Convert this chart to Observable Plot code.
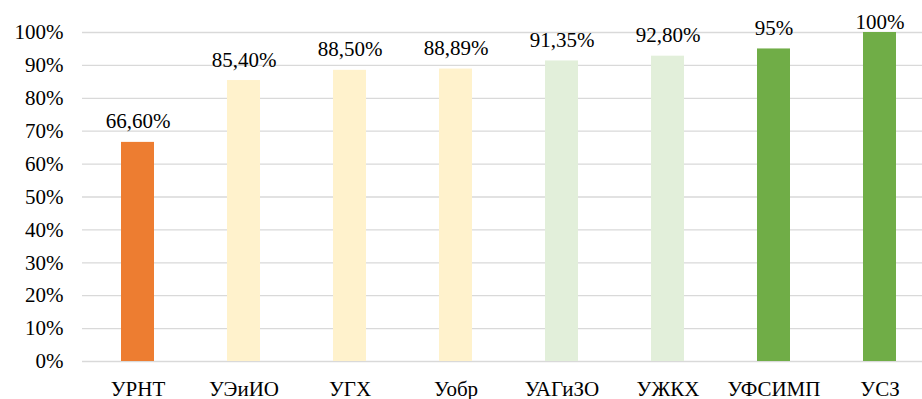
<!DOCTYPE html>
<html><head><meta charset="utf-8">
<script src="https://cdn.jsdelivr.net/npm/d3@7"></script>
<script src="https://cdn.jsdelivr.net/npm/@observablehq/plot@0.6"></script>
<style>
html,body{margin:0;padding:0;background:#fff;overflow:hidden;width:922px;height:399px}
</style></head><body><div id="chart"></div>
<script>
const categories = ["УРНТ","УЭиИО","УГХ","Уобр","УАГиЗО","УЖКХ","УФСИМП","УСЗ"];
const values = [66.6, 85.4, 88.5, 88.89, 91.35, 92.8, 95, 100];
const valueLabels = ["66,60%","85,40%","88,50%","88,89%","91,35%","92,80%","95%","100%"];
const colors = ["#ED7D31","#FFF2CC","#FFF2CC","#FFF2CC","#E2EFDA","#E2EFDA","#70AD47","#70AD47"];
const yTicks = [0,10,20,30,40,50,60,70,80,90,100];

const data = categories.map((c,i)=>({cat:c, v:values[i], label:valueLabels[i], color:colors[i]}));
const serif = "'Liberation Serif', 'Times New Roman', serif";
const fs = 21;

const chart = Plot.plot({
  width: 934, height: 399,
  marginLeft: 82, marginRight: 0, marginTop: 32, marginBottom: 38,
  style: {fontFamily: serif, fontSize: fs + "px", color: "#000", background: "#fff", maxWidth: "none"},
  x: {domain: categories, paddingInner: 0.69, paddingOuter: 0.345, label: null},
  y: {domain: [0,100], label: null},
  marks: [
    Plot.gridY(yTicks, {stroke: "#D9D9D9", strokeOpacity: 1, strokeWidth: 1.3}),
    Plot.barY(data, {x: "cat", y: "v", fill: "color"}),
    // labels kept inside the plotting area (the top one is pulled down, as in the original)
    Plot.text(data.filter(d => d.v < 100), {x: "cat", y: "v", text: "label", lineAnchor: "bottom", dy: -14, fill: "#000", fontSize: fs, fontFamily: serif}),
    Plot.text(data.filter(d => d.v >= 100), {x: "cat", y: "v", text: "label", lineAnchor: "bottom", dy: -4, fill: "#000", fontSize: fs, fontFamily: serif}),
    Plot.axisY({ticks: yTicks, tickFormat: d => d + "%", tickSize: 0, tickPadding: 19, label: null, fontSize: fs, fontFamily: serif}),
    Plot.axisX({tickSize: 0, tickPadding: 20, label: null, fontSize: fs, fontFamily: serif})
  ]
});
chart.style.maxWidth = "none";
d3.select(chart).selectAll("text").style("fill", "#000");
document.getElementById("chart").appendChild(chart);
</script></body></html>
